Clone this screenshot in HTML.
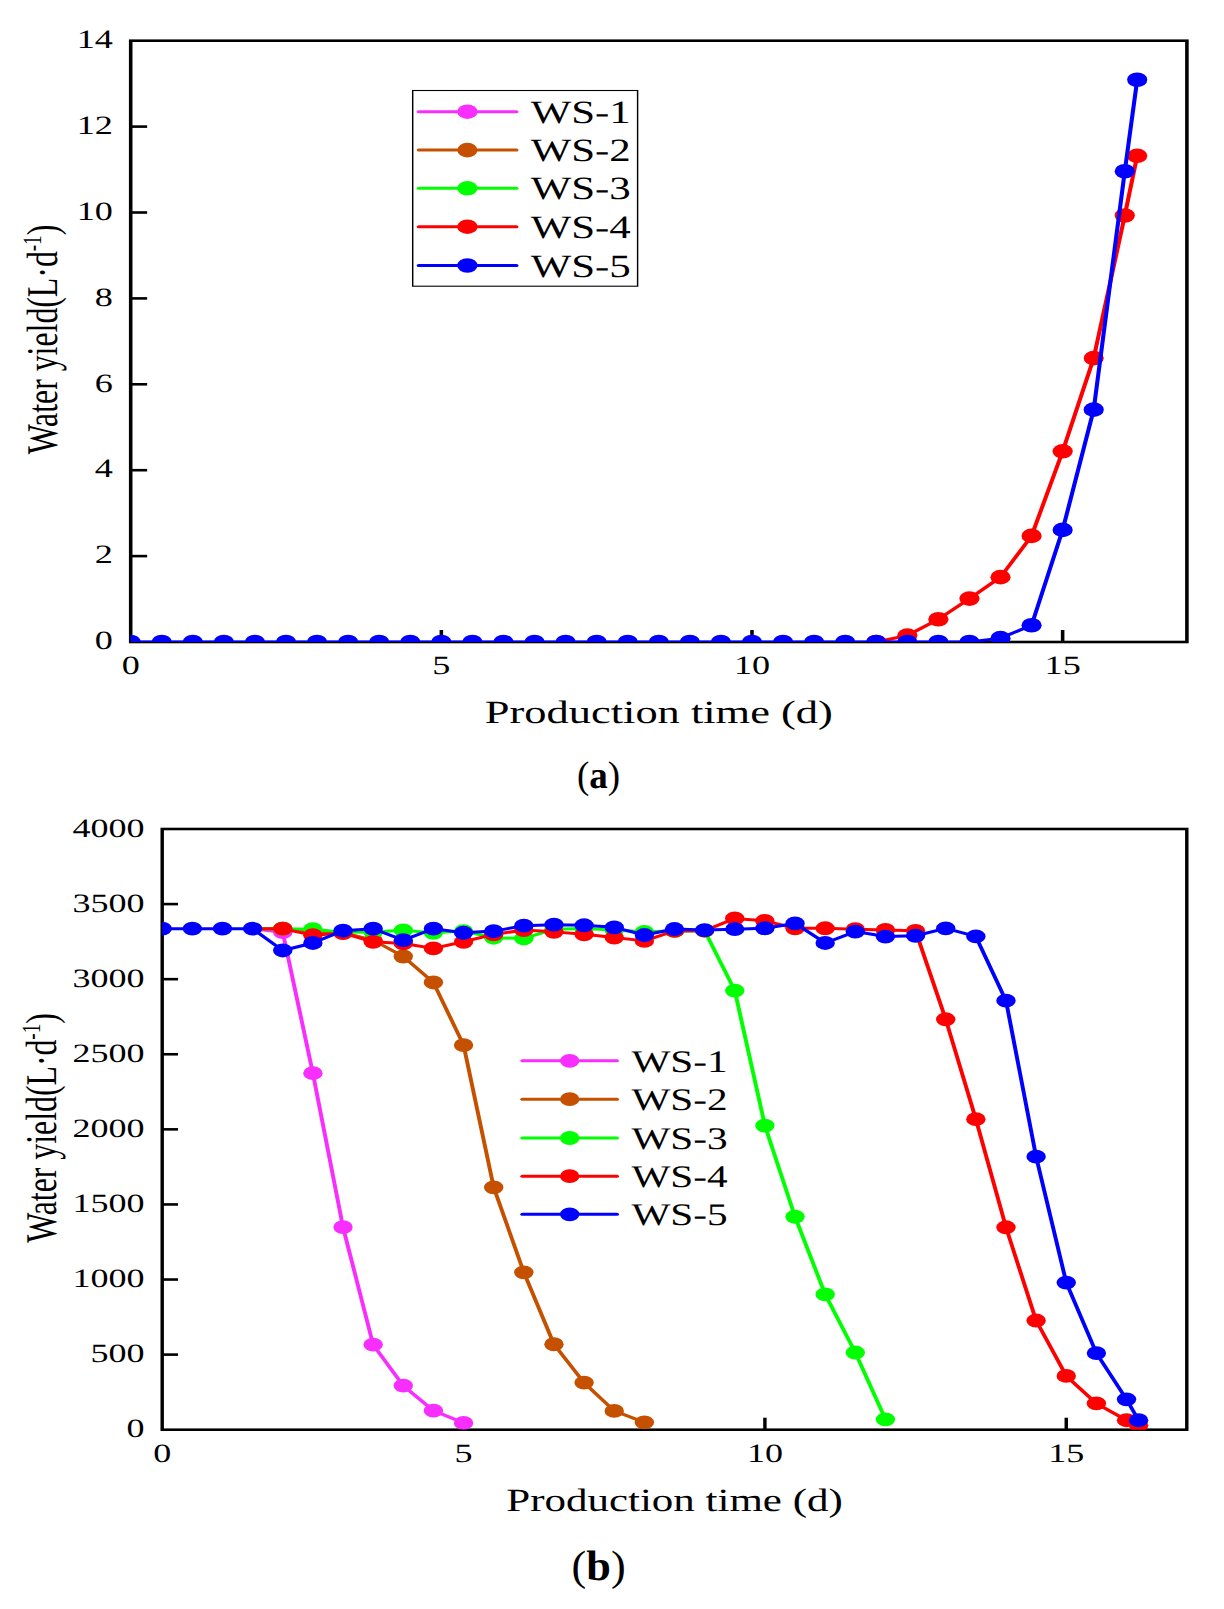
<!DOCTYPE html>
<html><head><meta charset="utf-8"><title>Water yield</title>
<style>html,body{margin:0;padding:0;background:#fff;} body{width:1224px;height:1609px;overflow:hidden;font-family:"Liberation Serif",serif;} svg{display:block;} text{font-family:"Liberation Serif",serif;text-rendering:geometricPrecision;}</style>
</head><body>
<svg width="1224" height="1609" viewBox="0 0 1224 1609" font-family="Liberation Serif, serif" fill="#000">
<g transform="scale(1.37,1)">
<clipPath id="clipa"><rect x="95.4" y="40.7" width="770.95" height="601.3"/></clipPath>
<rect x="95.4" y="40.7" width="770.95" height="601.3" fill="none" stroke="#000" stroke-width="2.6" stroke-linejoin="miter"/>
<line x1="95.4" y1="556.1" x2="107.4" y2="556.1" stroke="#000" stroke-width="2.6"/>
<line x1="95.4" y1="470.2" x2="107.4" y2="470.2" stroke="#000" stroke-width="2.6"/>
<line x1="95.4" y1="384.3" x2="107.4" y2="384.3" stroke="#000" stroke-width="2.6"/>
<line x1="95.4" y1="298.4" x2="107.4" y2="298.4" stroke="#000" stroke-width="2.6"/>
<line x1="95.4" y1="212.5" x2="107.4" y2="212.5" stroke="#000" stroke-width="2.6"/>
<line x1="95.4" y1="126.6" x2="107.4" y2="126.6" stroke="#000" stroke-width="2.6"/>
<line x1="322.15" y1="642" x2="322.15" y2="630" stroke="#000" stroke-width="2.6"/>
<line x1="548.9" y1="642" x2="548.9" y2="630" stroke="#000" stroke-width="2.6"/>
<line x1="775.65" y1="642" x2="775.65" y2="630" stroke="#000" stroke-width="2.6"/>
<g clip-path="url(#clipa)">
<polyline points="639.6,642 662.28,635.56 684.95,619.24 707.63,598.62 730.3,577.15 752.98,535.91 775.65,451.3 798.33,358.1 821,215.51 830.07,155.81" fill="none" stroke="#ff0000" stroke-width="3.0" stroke-linejoin="round"/>
<ellipse cx="639.6" cy="642" rx="7.37" ry="7.3" fill="#ff0000"/>
<ellipse cx="662.28" cy="635.56" rx="7.37" ry="7.3" fill="#ff0000"/>
<ellipse cx="684.95" cy="619.24" rx="7.37" ry="7.3" fill="#ff0000"/>
<ellipse cx="707.63" cy="598.62" rx="7.37" ry="7.3" fill="#ff0000"/>
<ellipse cx="730.3" cy="577.15" rx="7.37" ry="7.3" fill="#ff0000"/>
<ellipse cx="752.98" cy="535.91" rx="7.37" ry="7.3" fill="#ff0000"/>
<ellipse cx="775.65" cy="451.3" rx="7.37" ry="7.3" fill="#ff0000"/>
<ellipse cx="798.33" cy="358.1" rx="7.37" ry="7.3" fill="#ff0000"/>
<ellipse cx="821" cy="215.51" rx="7.37" ry="7.3" fill="#ff0000"/>
<ellipse cx="830.07" cy="155.81" rx="7.37" ry="7.3" fill="#ff0000"/>
<polyline points="95.4,642 118.08,642 140.75,642 163.43,642 186.1,642 208.78,642 231.45,642 254.13,642 276.8,642 299.48,642 322.15,642 344.83,642 367.5,642 390.18,642 412.85,642 435.53,642 458.2,642 480.88,642 503.55,642 526.23,642 548.9,642 571.58,642 594.25,642 616.93,642 639.6,642 662.28,642 684.95,642 707.63,642 730.3,638.13 752.98,625.25 775.65,529.9 798.33,409.64 821,171.27 830.07,79.78" fill="none" stroke="#0000ff" stroke-width="3.0" stroke-linejoin="round"/>
<ellipse cx="95.4" cy="642" rx="7.37" ry="7.3" fill="#0000ff"/>
<ellipse cx="118.08" cy="642" rx="7.37" ry="7.3" fill="#0000ff"/>
<ellipse cx="140.75" cy="642" rx="7.37" ry="7.3" fill="#0000ff"/>
<ellipse cx="163.43" cy="642" rx="7.37" ry="7.3" fill="#0000ff"/>
<ellipse cx="186.1" cy="642" rx="7.37" ry="7.3" fill="#0000ff"/>
<ellipse cx="208.78" cy="642" rx="7.37" ry="7.3" fill="#0000ff"/>
<ellipse cx="231.45" cy="642" rx="7.37" ry="7.3" fill="#0000ff"/>
<ellipse cx="254.13" cy="642" rx="7.37" ry="7.3" fill="#0000ff"/>
<ellipse cx="276.8" cy="642" rx="7.37" ry="7.3" fill="#0000ff"/>
<ellipse cx="299.48" cy="642" rx="7.37" ry="7.3" fill="#0000ff"/>
<ellipse cx="322.15" cy="642" rx="7.37" ry="7.3" fill="#0000ff"/>
<ellipse cx="344.83" cy="642" rx="7.37" ry="7.3" fill="#0000ff"/>
<ellipse cx="367.5" cy="642" rx="7.37" ry="7.3" fill="#0000ff"/>
<ellipse cx="390.18" cy="642" rx="7.37" ry="7.3" fill="#0000ff"/>
<ellipse cx="412.85" cy="642" rx="7.37" ry="7.3" fill="#0000ff"/>
<ellipse cx="435.53" cy="642" rx="7.37" ry="7.3" fill="#0000ff"/>
<ellipse cx="458.2" cy="642" rx="7.37" ry="7.3" fill="#0000ff"/>
<ellipse cx="480.88" cy="642" rx="7.37" ry="7.3" fill="#0000ff"/>
<ellipse cx="503.55" cy="642" rx="7.37" ry="7.3" fill="#0000ff"/>
<ellipse cx="526.23" cy="642" rx="7.37" ry="7.3" fill="#0000ff"/>
<ellipse cx="548.9" cy="642" rx="7.37" ry="7.3" fill="#0000ff"/>
<ellipse cx="571.58" cy="642" rx="7.37" ry="7.3" fill="#0000ff"/>
<ellipse cx="594.25" cy="642" rx="7.37" ry="7.3" fill="#0000ff"/>
<ellipse cx="616.93" cy="642" rx="7.37" ry="7.3" fill="#0000ff"/>
<ellipse cx="639.6" cy="642" rx="7.37" ry="7.3" fill="#0000ff"/>
<ellipse cx="662.28" cy="642" rx="7.37" ry="7.3" fill="#0000ff"/>
<ellipse cx="684.95" cy="642" rx="7.37" ry="7.3" fill="#0000ff"/>
<ellipse cx="707.63" cy="642" rx="7.37" ry="7.3" fill="#0000ff"/>
<ellipse cx="730.3" cy="638.13" rx="7.37" ry="7.3" fill="#0000ff"/>
<ellipse cx="752.98" cy="625.25" rx="7.37" ry="7.3" fill="#0000ff"/>
<ellipse cx="775.65" cy="529.9" rx="7.37" ry="7.3" fill="#0000ff"/>
<ellipse cx="798.33" cy="409.64" rx="7.37" ry="7.3" fill="#0000ff"/>
<ellipse cx="821" cy="171.27" rx="7.37" ry="7.3" fill="#0000ff"/>
<ellipse cx="830.07" cy="79.78" rx="7.37" ry="7.3" fill="#0000ff"/>
</g>
</g>
<text transform="translate(112.9,649.2) scale(1.365,1)" font-size="26.5" text-anchor="end">0</text>
<text transform="translate(112.9,563.3) scale(1.365,1)" font-size="26.5" text-anchor="end">2</text>
<text transform="translate(112.9,477.4) scale(1.365,1)" font-size="26.5" text-anchor="end">4</text>
<text transform="translate(112.9,391.5) scale(1.365,1)" font-size="26.5" text-anchor="end">6</text>
<text transform="translate(112.9,305.6) scale(1.365,1)" font-size="26.5" text-anchor="end">8</text>
<text transform="translate(112.9,219.7) scale(1.365,1)" font-size="26.5" text-anchor="end">10</text>
<text transform="translate(112.9,133.8) scale(1.365,1)" font-size="26.5" text-anchor="end">12</text>
<text transform="translate(112.9,47.9) scale(1.365,1)" font-size="26.5" text-anchor="end">14</text>
<text transform="translate(130.7,673.6) scale(1.365,1)" font-size="26.5" text-anchor="middle">0</text>
<text transform="translate(441.35,673.6) scale(1.365,1)" font-size="26.5" text-anchor="middle">5</text>
<text transform="translate(751.99,673.6) scale(1.365,1)" font-size="26.5" text-anchor="middle">10</text>
<text transform="translate(1062.64,673.6) scale(1.365,1)" font-size="26.5" text-anchor="middle">15</text>
<text transform="translate(658.8,723.3) scale(1.367,1)" font-size="32.5" text-anchor="middle">Production time (d)</text>
<g transform="translate(57.2,339.55) scale(1.38,1) rotate(-90)"><text x="0" y="0" font-size="31.8" text-anchor="middle">Water yield(L·d<tspan font-size="19.08" dy="-12">-1</tspan><tspan dy="12">)</tspan></text></g>
<g transform="scale(1.32,1)">
<rect x="312.65" y="90.5" width="170.38" height="195.7" fill="none" stroke="#000" stroke-width="1.1"/>
<line x1="317.2" y1="111.7" x2="391.29" y2="111.7" stroke="#f82eff" stroke-width="3.0" stroke-linecap="round"/>
<ellipse cx="354.09" cy="111.7" rx="7.65" ry="7.3" fill="#f82eff"/>
<text x="402.05" y="122.7" font-size="32.5">WS-1</text>
<line x1="317.2" y1="150.1" x2="391.29" y2="150.1" stroke="#c55000" stroke-width="3.0" stroke-linecap="round"/>
<ellipse cx="354.09" cy="150.1" rx="7.65" ry="7.3" fill="#c55000"/>
<text x="402.05" y="161.1" font-size="32.5">WS-2</text>
<line x1="317.2" y1="188.3" x2="391.29" y2="188.3" stroke="#00ff00" stroke-width="3.0" stroke-linecap="round"/>
<ellipse cx="354.09" cy="188.3" rx="7.65" ry="7.3" fill="#00ff00"/>
<text x="402.05" y="199.3" font-size="32.5">WS-3</text>
<line x1="317.2" y1="226.7" x2="391.29" y2="226.7" stroke="#ff0000" stroke-width="3.0" stroke-linecap="round"/>
<ellipse cx="354.09" cy="226.7" rx="7.65" ry="7.3" fill="#ff0000"/>
<text x="402.05" y="237.7" font-size="32.5">WS-4</text>
<line x1="317.2" y1="265.5" x2="391.29" y2="265.5" stroke="#0000ff" stroke-width="3.0" stroke-linecap="round"/>
<ellipse cx="354.09" cy="265.5" rx="7.65" ry="7.3" fill="#0000ff"/>
<text x="402.05" y="276.5" font-size="32.5">WS-5</text>
</g>
<g transform="scale(1.32,1)">
<clipPath id="clipb"><rect x="122.88" y="829" width="776.21" height="600.7"/></clipPath>
<rect x="122.88" y="829" width="776.21" height="600.7" fill="none" stroke="#000" stroke-width="2.6" stroke-linejoin="miter"/>
<line x1="122.88" y1="1354.61" x2="134.88" y2="1354.61" stroke="#000" stroke-width="2.6"/>
<line x1="122.88" y1="1279.53" x2="134.88" y2="1279.53" stroke="#000" stroke-width="2.6"/>
<line x1="122.88" y1="1204.44" x2="134.88" y2="1204.44" stroke="#000" stroke-width="2.6"/>
<line x1="122.88" y1="1129.35" x2="134.88" y2="1129.35" stroke="#000" stroke-width="2.6"/>
<line x1="122.88" y1="1054.26" x2="134.88" y2="1054.26" stroke="#000" stroke-width="2.6"/>
<line x1="122.88" y1="979.17" x2="134.88" y2="979.17" stroke="#000" stroke-width="2.6"/>
<line x1="122.88" y1="904.09" x2="134.88" y2="904.09" stroke="#000" stroke-width="2.6"/>
<line x1="351.18" y1="1429.7" x2="351.18" y2="1417.7" stroke="#000" stroke-width="2.6"/>
<line x1="579.47" y1="1429.7" x2="579.47" y2="1417.7" stroke="#000" stroke-width="2.6"/>
<line x1="807.77" y1="1429.7" x2="807.77" y2="1417.7" stroke="#000" stroke-width="2.6"/>
<g clip-path="url(#clipb)">
<polyline points="191.37,928.72 214.2,932.17 237.03,1073.18 259.86,1227.11 282.69,1344.7 305.52,1385.7 328.35,1410.63 351.18,1422.94" fill="none" stroke="#f82eff" stroke-width="3.0" stroke-linejoin="round"/>
<ellipse cx="214.2" cy="932.17" rx="7.35" ry="6.9" fill="#f82eff"/>
<ellipse cx="237.03" cy="1073.18" rx="7.35" ry="6.9" fill="#f82eff"/>
<ellipse cx="259.86" cy="1227.11" rx="7.35" ry="6.9" fill="#f82eff"/>
<ellipse cx="282.69" cy="1344.7" rx="7.35" ry="6.9" fill="#f82eff"/>
<ellipse cx="305.52" cy="1385.7" rx="7.35" ry="6.9" fill="#f82eff"/>
<ellipse cx="328.35" cy="1410.63" rx="7.35" ry="6.9" fill="#f82eff"/>
<ellipse cx="351.18" cy="1422.94" rx="7.35" ry="6.9" fill="#f82eff"/>
<polyline points="191.37,928.72 214.2,928.72 237.03,931.12 259.86,932.62 282.69,940.13 305.52,956.5 328.35,982.48 351.18,1045.1 374.01,1187.32 396.84,1272.32 419.67,1344.25 442.5,1382.7 465.33,1410.93 488.16,1422.34" fill="none" stroke="#c55000" stroke-width="3.0" stroke-linejoin="round"/>
<ellipse cx="214.2" cy="928.72" rx="7.35" ry="6.9" fill="#c55000"/>
<ellipse cx="237.03" cy="931.12" rx="7.35" ry="6.9" fill="#c55000"/>
<ellipse cx="259.86" cy="932.62" rx="7.35" ry="6.9" fill="#c55000"/>
<ellipse cx="282.69" cy="940.13" rx="7.35" ry="6.9" fill="#c55000"/>
<ellipse cx="305.52" cy="956.5" rx="7.35" ry="6.9" fill="#c55000"/>
<ellipse cx="328.35" cy="982.48" rx="7.35" ry="6.9" fill="#c55000"/>
<ellipse cx="351.18" cy="1045.1" rx="7.35" ry="6.9" fill="#c55000"/>
<ellipse cx="374.01" cy="1187.32" rx="7.35" ry="6.9" fill="#c55000"/>
<ellipse cx="396.84" cy="1272.32" rx="7.35" ry="6.9" fill="#c55000"/>
<ellipse cx="419.67" cy="1344.25" rx="7.35" ry="6.9" fill="#c55000"/>
<ellipse cx="442.5" cy="1382.7" rx="7.35" ry="6.9" fill="#c55000"/>
<ellipse cx="465.33" cy="1410.93" rx="7.35" ry="6.9" fill="#c55000"/>
<ellipse cx="488.16" cy="1422.34" rx="7.35" ry="6.9" fill="#c55000"/>
<polyline points="191.37,928.72 214.2,928.72 237.03,929.17 259.86,932.17 282.69,932.02 305.52,930.37 328.35,932.77 351.18,931.12 374.01,937.73 396.84,938.48 419.67,929.32 442.5,928.57 465.33,930.07 488.16,931.87 510.98,930.97 533.81,930.67 556.64,990.59 579.47,1125.6 602.3,1216.75 625.13,1294.39 647.96,1352.51 670.79,1419.34" fill="none" stroke="#00ff00" stroke-width="3.0" stroke-linejoin="round"/>
<ellipse cx="214.2" cy="928.72" rx="7.35" ry="6.9" fill="#00ff00"/>
<ellipse cx="237.03" cy="929.17" rx="7.35" ry="6.9" fill="#00ff00"/>
<ellipse cx="259.86" cy="932.17" rx="7.35" ry="6.9" fill="#00ff00"/>
<ellipse cx="282.69" cy="932.02" rx="7.35" ry="6.9" fill="#00ff00"/>
<ellipse cx="305.52" cy="930.37" rx="7.35" ry="6.9" fill="#00ff00"/>
<ellipse cx="328.35" cy="932.77" rx="7.35" ry="6.9" fill="#00ff00"/>
<ellipse cx="351.18" cy="931.12" rx="7.35" ry="6.9" fill="#00ff00"/>
<ellipse cx="374.01" cy="937.73" rx="7.35" ry="6.9" fill="#00ff00"/>
<ellipse cx="396.84" cy="938.48" rx="7.35" ry="6.9" fill="#00ff00"/>
<ellipse cx="419.67" cy="929.32" rx="7.35" ry="6.9" fill="#00ff00"/>
<ellipse cx="442.5" cy="928.57" rx="7.35" ry="6.9" fill="#00ff00"/>
<ellipse cx="465.33" cy="930.07" rx="7.35" ry="6.9" fill="#00ff00"/>
<ellipse cx="488.16" cy="931.87" rx="7.35" ry="6.9" fill="#00ff00"/>
<ellipse cx="510.98" cy="930.97" rx="7.35" ry="6.9" fill="#00ff00"/>
<ellipse cx="533.81" cy="930.67" rx="7.35" ry="6.9" fill="#00ff00"/>
<ellipse cx="556.64" cy="990.59" rx="7.35" ry="6.9" fill="#00ff00"/>
<ellipse cx="579.47" cy="1125.6" rx="7.35" ry="6.9" fill="#00ff00"/>
<ellipse cx="602.3" cy="1216.75" rx="7.35" ry="6.9" fill="#00ff00"/>
<ellipse cx="625.13" cy="1294.39" rx="7.35" ry="6.9" fill="#00ff00"/>
<ellipse cx="647.96" cy="1352.51" rx="7.35" ry="6.9" fill="#00ff00"/>
<ellipse cx="670.79" cy="1419.34" rx="7.35" ry="6.9" fill="#00ff00"/>
<polyline points="191.37,928.72 214.2,928.72 237.03,935.17 259.86,933.07 282.69,941.78 305.52,943.43 328.35,948.39 351.18,941.78 374.01,934.42 396.84,930.07 419.67,931.87 442.5,934.27 465.33,937.58 488.16,940.88 510.98,930.97 533.81,930.67 556.64,918.5 579.47,920.91 602.3,928.27 625.13,928.27 647.96,929.17 670.79,929.92 693.62,930.82 716.45,1019.27 739.28,1119.14 762.11,1227.26 784.94,1320.52 807.77,1375.94 830.6,1403.42 853.43,1420.24 862.56,1425.19" fill="none" stroke="#ff0000" stroke-width="3.0" stroke-linejoin="round"/>
<ellipse cx="214.2" cy="928.72" rx="7.35" ry="6.9" fill="#ff0000"/>
<ellipse cx="237.03" cy="935.17" rx="7.35" ry="6.9" fill="#ff0000"/>
<ellipse cx="259.86" cy="933.07" rx="7.35" ry="6.9" fill="#ff0000"/>
<ellipse cx="282.69" cy="941.78" rx="7.35" ry="6.9" fill="#ff0000"/>
<ellipse cx="305.52" cy="943.43" rx="7.35" ry="6.9" fill="#ff0000"/>
<ellipse cx="328.35" cy="948.39" rx="7.35" ry="6.9" fill="#ff0000"/>
<ellipse cx="351.18" cy="941.78" rx="7.35" ry="6.9" fill="#ff0000"/>
<ellipse cx="374.01" cy="934.42" rx="7.35" ry="6.9" fill="#ff0000"/>
<ellipse cx="396.84" cy="930.07" rx="7.35" ry="6.9" fill="#ff0000"/>
<ellipse cx="419.67" cy="931.87" rx="7.35" ry="6.9" fill="#ff0000"/>
<ellipse cx="442.5" cy="934.27" rx="7.35" ry="6.9" fill="#ff0000"/>
<ellipse cx="465.33" cy="937.58" rx="7.35" ry="6.9" fill="#ff0000"/>
<ellipse cx="488.16" cy="940.88" rx="7.35" ry="6.9" fill="#ff0000"/>
<ellipse cx="510.98" cy="930.97" rx="7.35" ry="6.9" fill="#ff0000"/>
<ellipse cx="533.81" cy="930.67" rx="7.35" ry="6.9" fill="#ff0000"/>
<ellipse cx="556.64" cy="918.5" rx="7.35" ry="6.9" fill="#ff0000"/>
<ellipse cx="579.47" cy="920.91" rx="7.35" ry="6.9" fill="#ff0000"/>
<ellipse cx="602.3" cy="928.27" rx="7.35" ry="6.9" fill="#ff0000"/>
<ellipse cx="625.13" cy="928.27" rx="7.35" ry="6.9" fill="#ff0000"/>
<ellipse cx="647.96" cy="929.17" rx="7.35" ry="6.9" fill="#ff0000"/>
<ellipse cx="670.79" cy="929.92" rx="7.35" ry="6.9" fill="#ff0000"/>
<ellipse cx="693.62" cy="930.82" rx="7.35" ry="6.9" fill="#ff0000"/>
<ellipse cx="716.45" cy="1019.27" rx="7.35" ry="6.9" fill="#ff0000"/>
<ellipse cx="739.28" cy="1119.14" rx="7.35" ry="6.9" fill="#ff0000"/>
<ellipse cx="762.11" cy="1227.26" rx="7.35" ry="6.9" fill="#ff0000"/>
<ellipse cx="784.94" cy="1320.52" rx="7.35" ry="6.9" fill="#ff0000"/>
<ellipse cx="807.77" cy="1375.94" rx="7.35" ry="6.9" fill="#ff0000"/>
<ellipse cx="830.6" cy="1403.42" rx="7.35" ry="6.9" fill="#ff0000"/>
<ellipse cx="853.43" cy="1420.24" rx="7.35" ry="6.9" fill="#ff0000"/>
<ellipse cx="862.56" cy="1425.19" rx="7.35" ry="6.9" fill="#ff0000"/>
<polyline points="122.88,928.72 145.71,928.72 168.54,928.72 191.37,928.72 214.2,950.49 237.03,942.98 259.86,930.67 282.69,928.72 305.52,940.13 328.35,928.72 351.18,932.77 374.01,931.12 396.84,925.71 419.67,924.66 442.5,925.26 465.33,927.36 488.16,935.02 510.98,929.02 533.81,930.07 556.64,929.17 579.47,928.27 602.3,923.46 625.13,942.98 647.96,931.57 670.79,936.53 693.62,935.77 716.45,928.42 739.28,936.38 762.11,1000.65 784.94,1156.68 807.77,1282.53 830.6,1353.11 853.43,1399.36 862.56,1420.24" fill="none" stroke="#0000ff" stroke-width="3.0" stroke-linejoin="round"/>
<ellipse cx="122.88" cy="928.72" rx="7.35" ry="6.9" fill="#0000ff"/>
<ellipse cx="145.71" cy="928.72" rx="7.35" ry="6.9" fill="#0000ff"/>
<ellipse cx="168.54" cy="928.72" rx="7.35" ry="6.9" fill="#0000ff"/>
<ellipse cx="191.37" cy="928.72" rx="7.35" ry="6.9" fill="#0000ff"/>
<ellipse cx="214.2" cy="950.49" rx="7.35" ry="6.9" fill="#0000ff"/>
<ellipse cx="237.03" cy="942.98" rx="7.35" ry="6.9" fill="#0000ff"/>
<ellipse cx="259.86" cy="930.67" rx="7.35" ry="6.9" fill="#0000ff"/>
<ellipse cx="282.69" cy="928.72" rx="7.35" ry="6.9" fill="#0000ff"/>
<ellipse cx="305.52" cy="940.13" rx="7.35" ry="6.9" fill="#0000ff"/>
<ellipse cx="328.35" cy="928.72" rx="7.35" ry="6.9" fill="#0000ff"/>
<ellipse cx="351.18" cy="932.77" rx="7.35" ry="6.9" fill="#0000ff"/>
<ellipse cx="374.01" cy="931.12" rx="7.35" ry="6.9" fill="#0000ff"/>
<ellipse cx="396.84" cy="925.71" rx="7.35" ry="6.9" fill="#0000ff"/>
<ellipse cx="419.67" cy="924.66" rx="7.35" ry="6.9" fill="#0000ff"/>
<ellipse cx="442.5" cy="925.26" rx="7.35" ry="6.9" fill="#0000ff"/>
<ellipse cx="465.33" cy="927.36" rx="7.35" ry="6.9" fill="#0000ff"/>
<ellipse cx="488.16" cy="935.02" rx="7.35" ry="6.9" fill="#0000ff"/>
<ellipse cx="510.98" cy="929.02" rx="7.35" ry="6.9" fill="#0000ff"/>
<ellipse cx="533.81" cy="930.07" rx="7.35" ry="6.9" fill="#0000ff"/>
<ellipse cx="556.64" cy="929.17" rx="7.35" ry="6.9" fill="#0000ff"/>
<ellipse cx="579.47" cy="928.27" rx="7.35" ry="6.9" fill="#0000ff"/>
<ellipse cx="602.3" cy="923.46" rx="7.35" ry="6.9" fill="#0000ff"/>
<ellipse cx="625.13" cy="942.98" rx="7.35" ry="6.9" fill="#0000ff"/>
<ellipse cx="647.96" cy="931.57" rx="7.35" ry="6.9" fill="#0000ff"/>
<ellipse cx="670.79" cy="936.53" rx="7.35" ry="6.9" fill="#0000ff"/>
<ellipse cx="693.62" cy="935.77" rx="7.35" ry="6.9" fill="#0000ff"/>
<ellipse cx="716.45" cy="928.42" rx="7.35" ry="6.9" fill="#0000ff"/>
<ellipse cx="739.28" cy="936.38" rx="7.35" ry="6.9" fill="#0000ff"/>
<ellipse cx="762.11" cy="1000.65" rx="7.35" ry="6.9" fill="#0000ff"/>
<ellipse cx="784.94" cy="1156.68" rx="7.35" ry="6.9" fill="#0000ff"/>
<ellipse cx="807.77" cy="1282.53" rx="7.35" ry="6.9" fill="#0000ff"/>
<ellipse cx="830.6" cy="1353.11" rx="7.35" ry="6.9" fill="#0000ff"/>
<ellipse cx="853.43" cy="1399.36" rx="7.35" ry="6.9" fill="#0000ff"/>
<ellipse cx="862.56" cy="1420.24" rx="7.35" ry="6.9" fill="#0000ff"/>
</g>
</g>
<text transform="translate(144.6,1437.2) scale(1.36,1)" font-size="26.5" text-anchor="end">0</text>
<text transform="translate(144.6,1362.11) scale(1.36,1)" font-size="26.5" text-anchor="end">500</text>
<text transform="translate(144.6,1287.03) scale(1.36,1)" font-size="26.5" text-anchor="end">1000</text>
<text transform="translate(144.6,1211.94) scale(1.36,1)" font-size="26.5" text-anchor="end">1500</text>
<text transform="translate(144.6,1136.85) scale(1.36,1)" font-size="26.5" text-anchor="end">2000</text>
<text transform="translate(144.6,1061.76) scale(1.36,1)" font-size="26.5" text-anchor="end">2500</text>
<text transform="translate(144.6,986.67) scale(1.36,1)" font-size="26.5" text-anchor="end">3000</text>
<text transform="translate(144.6,911.59) scale(1.36,1)" font-size="26.5" text-anchor="end">3500</text>
<text transform="translate(144.6,836.5) scale(1.36,1)" font-size="26.5" text-anchor="end">4000</text>
<text transform="translate(162.2,1462) scale(1.36,1)" font-size="26.5" text-anchor="middle">0</text>
<text transform="translate(463.55,1462) scale(1.36,1)" font-size="26.5" text-anchor="middle">5</text>
<text transform="translate(764.91,1462) scale(1.36,1)" font-size="26.5" text-anchor="middle">10</text>
<text transform="translate(1066.26,1462) scale(1.36,1)" font-size="26.5" text-anchor="middle">15</text>
<text transform="translate(674.5,1510.8) scale(1.322,1)" font-size="32.5" text-anchor="middle">Production time (d)</text>
<g transform="translate(56.4,1127.95) scale(1.38,1) rotate(-90)"><text x="0" y="0" font-size="31.8" text-anchor="middle">Water yield(L·d<tspan font-size="19.08" dy="-12">-1</tspan><tspan dy="12">)</tspan></text></g>
<g transform="scale(1.31,1)">
<line x1="398.7" y1="1060.8" x2="470.99" y2="1060.8" stroke="#f82eff" stroke-width="3.0" stroke-linecap="round"/>
<ellipse cx="434.89" cy="1060.8" rx="7.4" ry="6.9" fill="#f82eff"/>
<text x="481.98" y="1071.8" font-size="31.5">WS-1</text>
<line x1="398.7" y1="1099.2" x2="470.99" y2="1099.2" stroke="#c55000" stroke-width="3.0" stroke-linecap="round"/>
<ellipse cx="434.89" cy="1099.2" rx="7.4" ry="6.9" fill="#c55000"/>
<text x="481.98" y="1110.2" font-size="31.5">WS-2</text>
<line x1="398.7" y1="1138" x2="470.99" y2="1138" stroke="#00ff00" stroke-width="3.0" stroke-linecap="round"/>
<ellipse cx="434.89" cy="1138" rx="7.4" ry="6.9" fill="#00ff00"/>
<text x="481.98" y="1149" font-size="31.5">WS-3</text>
<line x1="398.7" y1="1176.2" x2="470.99" y2="1176.2" stroke="#ff0000" stroke-width="3.0" stroke-linecap="round"/>
<ellipse cx="434.89" cy="1176.2" rx="7.4" ry="6.9" fill="#ff0000"/>
<text x="481.98" y="1187.2" font-size="31.5">WS-4</text>
<line x1="398.7" y1="1214.3" x2="470.99" y2="1214.3" stroke="#0000ff" stroke-width="3.0" stroke-linecap="round"/>
<ellipse cx="434.89" cy="1214.3" rx="7.4" ry="6.9" fill="#0000ff"/>
<text x="481.98" y="1225.3" font-size="31.5">WS-5</text>
</g>
<text transform="translate(598.5,787.7) scale(0.96,1)" font-size="38.6" text-anchor="middle">(<tspan font-weight="bold">a</tspan>)</text>
<text transform="translate(598.6,1579.9) scale(1.04,1)" font-size="42.5" text-anchor="middle">(<tspan font-weight="bold">b</tspan>)</text>
</svg>
</body></html>
